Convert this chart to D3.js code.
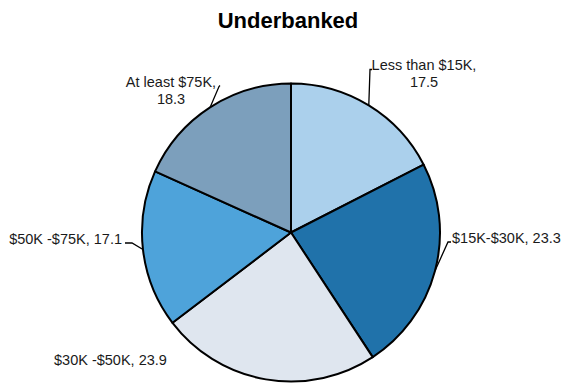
<!DOCTYPE html>
<html>
<head>
<meta charset="utf-8">
<script src="https://cdn.jsdelivr.net/npm/d3@7"></script>
<style>
  html, body { margin: 0; padding: 0; background: #fff; }
  svg { display: block; font-family: "Liberation Sans", Arial, sans-serif; }
</style>
</head>
<body>
<svg id="chart" width="562" height="384"></svg>
<script>
// Underbanked share by household income
const categories = ["Less than $15K", "$15K-$30K", "$30K -$50K", "$50K -$75K", "At least $75K"];
const values = [17.5, 23.3, 23.9, 17.1, 18.3];
const colors = ["#abd0ec", "#2072aa", "#dfe6ef", "#4ea3da", "#7c9fbc"];

const width = 562, height = 384;
const cx = 291, cy = 232.5, radius = 149;

const svg = d3.select("#chart");

svg.append("text")
  .attr("x", 288).attr("y", 28)
  .attr("text-anchor", "middle")
  .attr("font-size", 22).attr("font-weight", "bold")
  .attr("fill", "#000")
  .text("Underbanked");

const pie = d3.pie().sort(null).value(d => d.value);
const arcs = pie(categories.map((c, i) => ({ name: c, value: values[i], color: colors[i] })));
const arc = d3.arc().innerRadius(0).outerRadius(radius);

const g = svg.append("g").attr("transform", `translate(${cx},${cy})`);

g.selectAll("path.slice")
  .data(arcs)
  .join("path")
  .attr("class", "slice")
  .attr("d", arc)
  .attr("fill", d => d.data.color)
  .attr("stroke", "#000")
  .attr("stroke-width", 2)
  .attr("stroke-linejoin", "round");

// Label placement (relative to pie centre): text lines, anchor, leader elbow
const labelLayout = [
  { x: 133, y: -163, anchor: "middle", lines: 2, elbow: [[79, -163], [81, -163]] },
  { x: 161, y: 10, anchor: "start", lines: 1, elbow: [[157, 9.5], [160, 9.5]] },
  { x: -237, y: 132.5, anchor: "start", lines: 1, elbow: null },
  { x: -169, y: 11, anchor: "end", lines: 1, elbow: [[-159, 10.5], [-166, 10.5]] },
  { x: -120, y: -146, anchor: "middle", lines: 2, elbow: [[-72, -146], [-71, -147]] }
];

const fmt = d3.format(".1f");

arcs.forEach((d, i) => {
  const L = labelLayout[i];
  if (L.elbow) {
    const a = (d.startAngle + d.endAngle) / 2;
    const start = [Math.sin(a) * radius, -Math.cos(a) * radius];
    g.append("path")
      .attr("d", d3.line()([start, ...L.elbow]))
      .attr("fill", "none")
      .attr("stroke", "#000")
      .attr("stroke-width", 1.3);
  }
  const t = g.append("text")
    .attr("text-anchor", L.anchor)
    .attr("font-size", 14.5)
    .attr("fill", "#1a1a1a");
  if (L.lines === 2) {
    t.append("tspan").attr("x", L.x).attr("y", L.y).text(d.data.name + ",");
    t.append("tspan").attr("x", L.x).attr("y", L.y + 17).text(fmt(d.data.value));
  } else {
    t.append("tspan").attr("x", L.x).attr("y", L.y).text(d.data.name + ", " + fmt(d.data.value));
  }
});
</script>
</body>
</html>
